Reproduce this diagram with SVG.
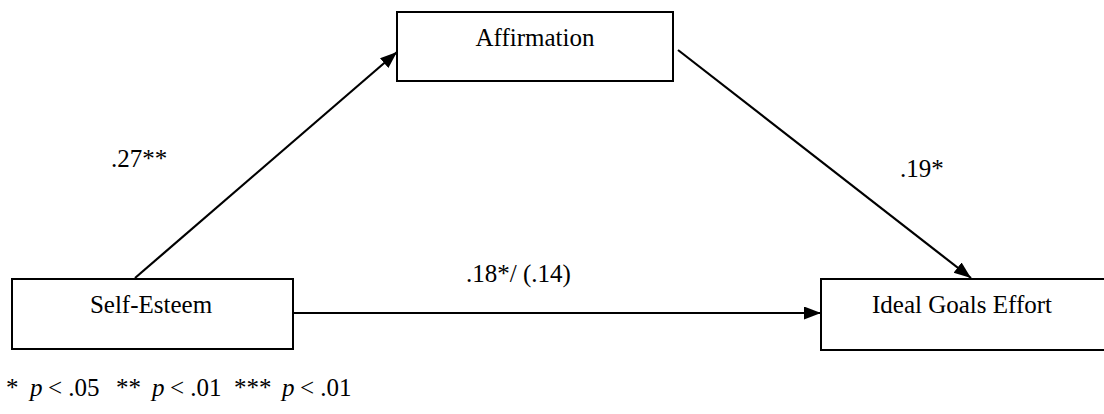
<svg xmlns="http://www.w3.org/2000/svg" width="1104" height="414" viewBox="0 0 1104 414">
<style>
.box{fill:#fff;stroke:#000;stroke-width:2}
.lbl{font-family:"Liberation Serif","Times New Roman",serif;font-size:25px;fill:#000}
.edge{stroke:#000;stroke-width:2.2;fill:none}
</style>
<defs>
<marker id="ah" markerUnits="userSpaceOnUse" markerWidth="18" markerHeight="14" refX="17" refY="6.5" orient="auto">
<path d="M0,0 L17,6.5 L0,13 Z" fill="#000"/>
</marker>
</defs>
<rect width="1104" height="414" fill="#fff"/>
<g id="connectors">
<line class="edge" x1="135" y1="278" x2="397" y2="52" marker-end="url(#ah)"/>
<line class="edge" x1="678" y1="50" x2="971" y2="278" marker-end="url(#ah)"/>
<line class="edge" x1="293" y1="313" x2="821" y2="313" marker-end="url(#ah)"/>
<text class="lbl" x="111" y="167">.27**</text>
<text class="lbl" x="900" y="177">.19*</text>
<text class="lbl" x="466" y="282">.18*/ (.14)</text>
</g>
<g id="affirmation">
<rect class="box" x="397" y="12" width="276" height="69"/>
<text class="lbl" x="535" y="46" text-anchor="middle">Affirmation</text>
</g>
<g id="self-esteem">
<rect class="box" x="12" y="279" width="281" height="70"/>
<text class="lbl" x="151" y="313" text-anchor="middle">Self-Esteem</text>
</g>
<g id="ideal-goals-effort">
<rect class="box" x="821" y="279" width="300" height="71"/>
<text class="lbl" x="962" y="313" text-anchor="middle">Ideal Goals Effort</text>
</g>
<g id="footnote">
<text class="lbl" y="396"><tspan x="6">*</tspan><tspan x="30" font-style="italic">p</tspan><tspan x="48">&lt; .05</tspan><tspan x="116">**</tspan><tspan x="152" font-style="italic">p</tspan><tspan x="170">&lt; .01</tspan><tspan x="234">***</tspan><tspan x="282" font-style="italic">p</tspan><tspan x="300">&lt; .01</tspan></text>
</g>
</svg>
